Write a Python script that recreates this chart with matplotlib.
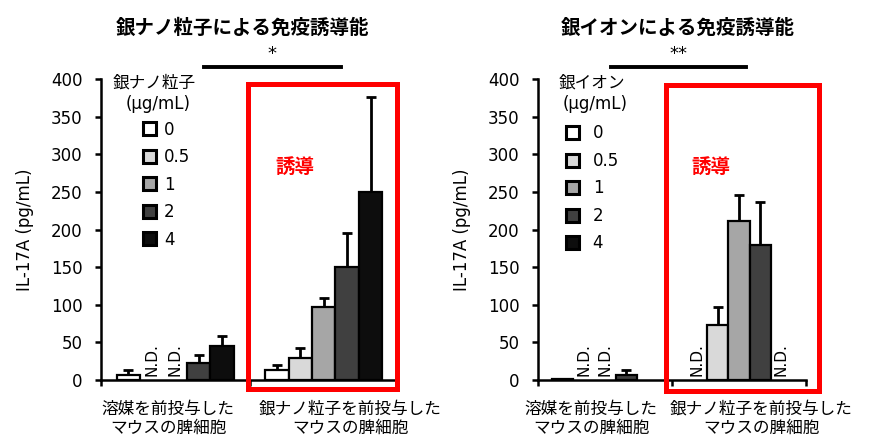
import matplotlib
matplotlib.use("Agg")
import matplotlib.pyplot as plt
from matplotlib.patches import Rectangle
import numpy as np

plt.rcParams['font.family'] = ['DejaVu Sans', 'Noto Sans CJK JP']

# Data
concs = ['0', '0.5', '1', '2', '4']
bar_colors = ['#ffffff', '#d9d9d9', '#a6a6a6', '#404040', '#0d0d0d']
groups = ['溶媒を前投与した\nマウスの脾細胞', '銀ナノ粒子を前投与した\nマウスの脾細胞']
nd = np.nan

np_vehicle = [6.6, nd, nd, 22, 45]
np_vehicle_err = [6.4, nd, nd, 11, 13]
np_silver = [13.3, 28.8, 97, 150.6, 250]
np_silver_err = [6.7, 14, 12, 45, 126]

ion_vehicle = [1, nd, nd, 6.6, nd]
ion_vehicle_err = [0, nd, nd, 6.4, nd]
ion_silver = [nd, 73, 211, 179, nd]
ion_silver_err = [nd, 24, 35, 57, nd]

nd_np = [(0, 1), (0, 2)]
nd_ion = [(0, 1), (0, 2), (1, 0), (1, 4)]

fig = plt.figure(figsize=(8.72, 4.46), dpi=100)
ax1 = fig.add_axes([101/872, 66/446, 297/872, 301/446])
ax2 = fig.add_axes([538/872, 66/446, 268/872, 301/446])

w = 0.158


def draw_panel(ax, vals, errs, nd_list, title, legend_title, sig, sig_x, star_x,
               box, induce_x, label_x, title_x, leg_x, leg_y, leg_title_x, textpad):
    centers = [0.5, 1.5]
    for g, (v, e) in enumerate(zip(vals, errs)):
        for i in range(5):
            x = centers[g] + (i - 2) * w
            if np.isnan(v[i]):
                continue
            ax.bar(x, v[i], width=w, color=bar_colors[i], edgecolor='black',
                   linewidth=1.6, zorder=3)
            if e[i] > 0:
                ax.errorbar(x, v[i], yerr=[[0], [e[i]]], fmt='none', ecolor='black',
                            elinewidth=2, capsize=3.5, capthick=2, zorder=2)
    for g, i in nd_list:
        x = centers[g] + (i - 2) * w
        ax.text(x, 5, 'N.D.', rotation=90, ha='center', va='bottom', fontsize=11)

    ax.set_xlim(0, 2)
    ax.set_ylim(0, 400)
    ax.set_yticks(np.arange(0, 401, 50))
    ax.set_xticks([0, 1, 2])
    ax.set_xticklabels([])
    ax.set_xticks(label_x, minor=True)
    ax.set_xticklabels(groups, minor=True, fontsize=12, linespacing=1.12)
    ax.tick_params(axis='x', which='minor', length=0, pad=14)
    ax.tick_params(axis='x', which='major', length=4.5, width=1.8, direction='out')
    ax.tick_params(axis='y', length=4.5, width=1.8, direction='out', labelsize=12, pad=9)
    for s in ['top', 'right']:
        ax.spines[s].set_visible(False)
    for s in ['left', 'bottom']:
        ax.spines[s].set_linewidth(1.8)
    ax.set_ylabel('IL-17A (pg/mL)', fontsize=12, labelpad=12)

    ax.text(title_x, 1.17, title, transform=ax.transAxes, ha='center', va='center',
            fontsize=14, fontweight='bold')

    # significance bar
    ax.plot(sig_x, [416, 416], color='black', lw=2.8, clip_on=False)
    ax.text(star_x, 433, sig, ha='center', va='center', fontsize=13)

    # red box
    ax.add_patch(Rectangle((box[0], box[2]), box[1] - box[0], box[3] - box[2],
                           fill=False, edgecolor='#ff0000', lw=3.6, clip_on=False, zorder=6))
    ax.text(induce_x, 283, '誘導', color='#ff0000', fontsize=14, fontweight='bold',
            ha='center', va='center')

    # legend
    ax.text(leg_title_x[0], 0.990, legend_title, transform=ax.transAxes, ha='center',
            va='center', fontsize=12)
    ax.text(leg_title_x[1], 0.917, '(μg/mL)', transform=ax.transAxes, ha='center',
            va='center', fontsize=12)
    handles = [Rectangle((0, 0), 1, 1, facecolor=c, edgecolor='black', lw=2.2)
               for c in bar_colors]
    ax.legend(handles, concs, loc='upper left', bbox_to_anchor=(leg_x, leg_y),
              frameon=False, fontsize=12, handlelength=0.8, handleheight=0.8,
              handletextpad=textpad, labelspacing=0.57, borderpad=0, borderaxespad=0)


draw_panel(ax1, [np_vehicle, np_silver], [np_vehicle_err, np_silver_err], nd_np,
           '銀ナノ粒子による免疫誘導能', '銀ナノ粒子', '*', [0.694, 1.616], 1.15,
           (0.99, 1.993, -12, 394), 1.306, [0.451, 1.68], 0.476,
           0.1414, 0.862, (0.178, 0.192), 0.45)
draw_panel(ax2, [ion_vehicle, ion_silver], [ion_vehicle_err, ion_silver_err], nd_ion,
           '銀イオンによる免疫誘導能', '銀イオン', '**', [0.545, 1.552], 1.05,
           (0.955, 2.10, -14.6, 392), 1.291, [0.396, 1.668], 0.522,
           0.1045, 0.849, (0.2015, 0.2127), 0.8)

fig.savefig('out.png', dpi=100)
